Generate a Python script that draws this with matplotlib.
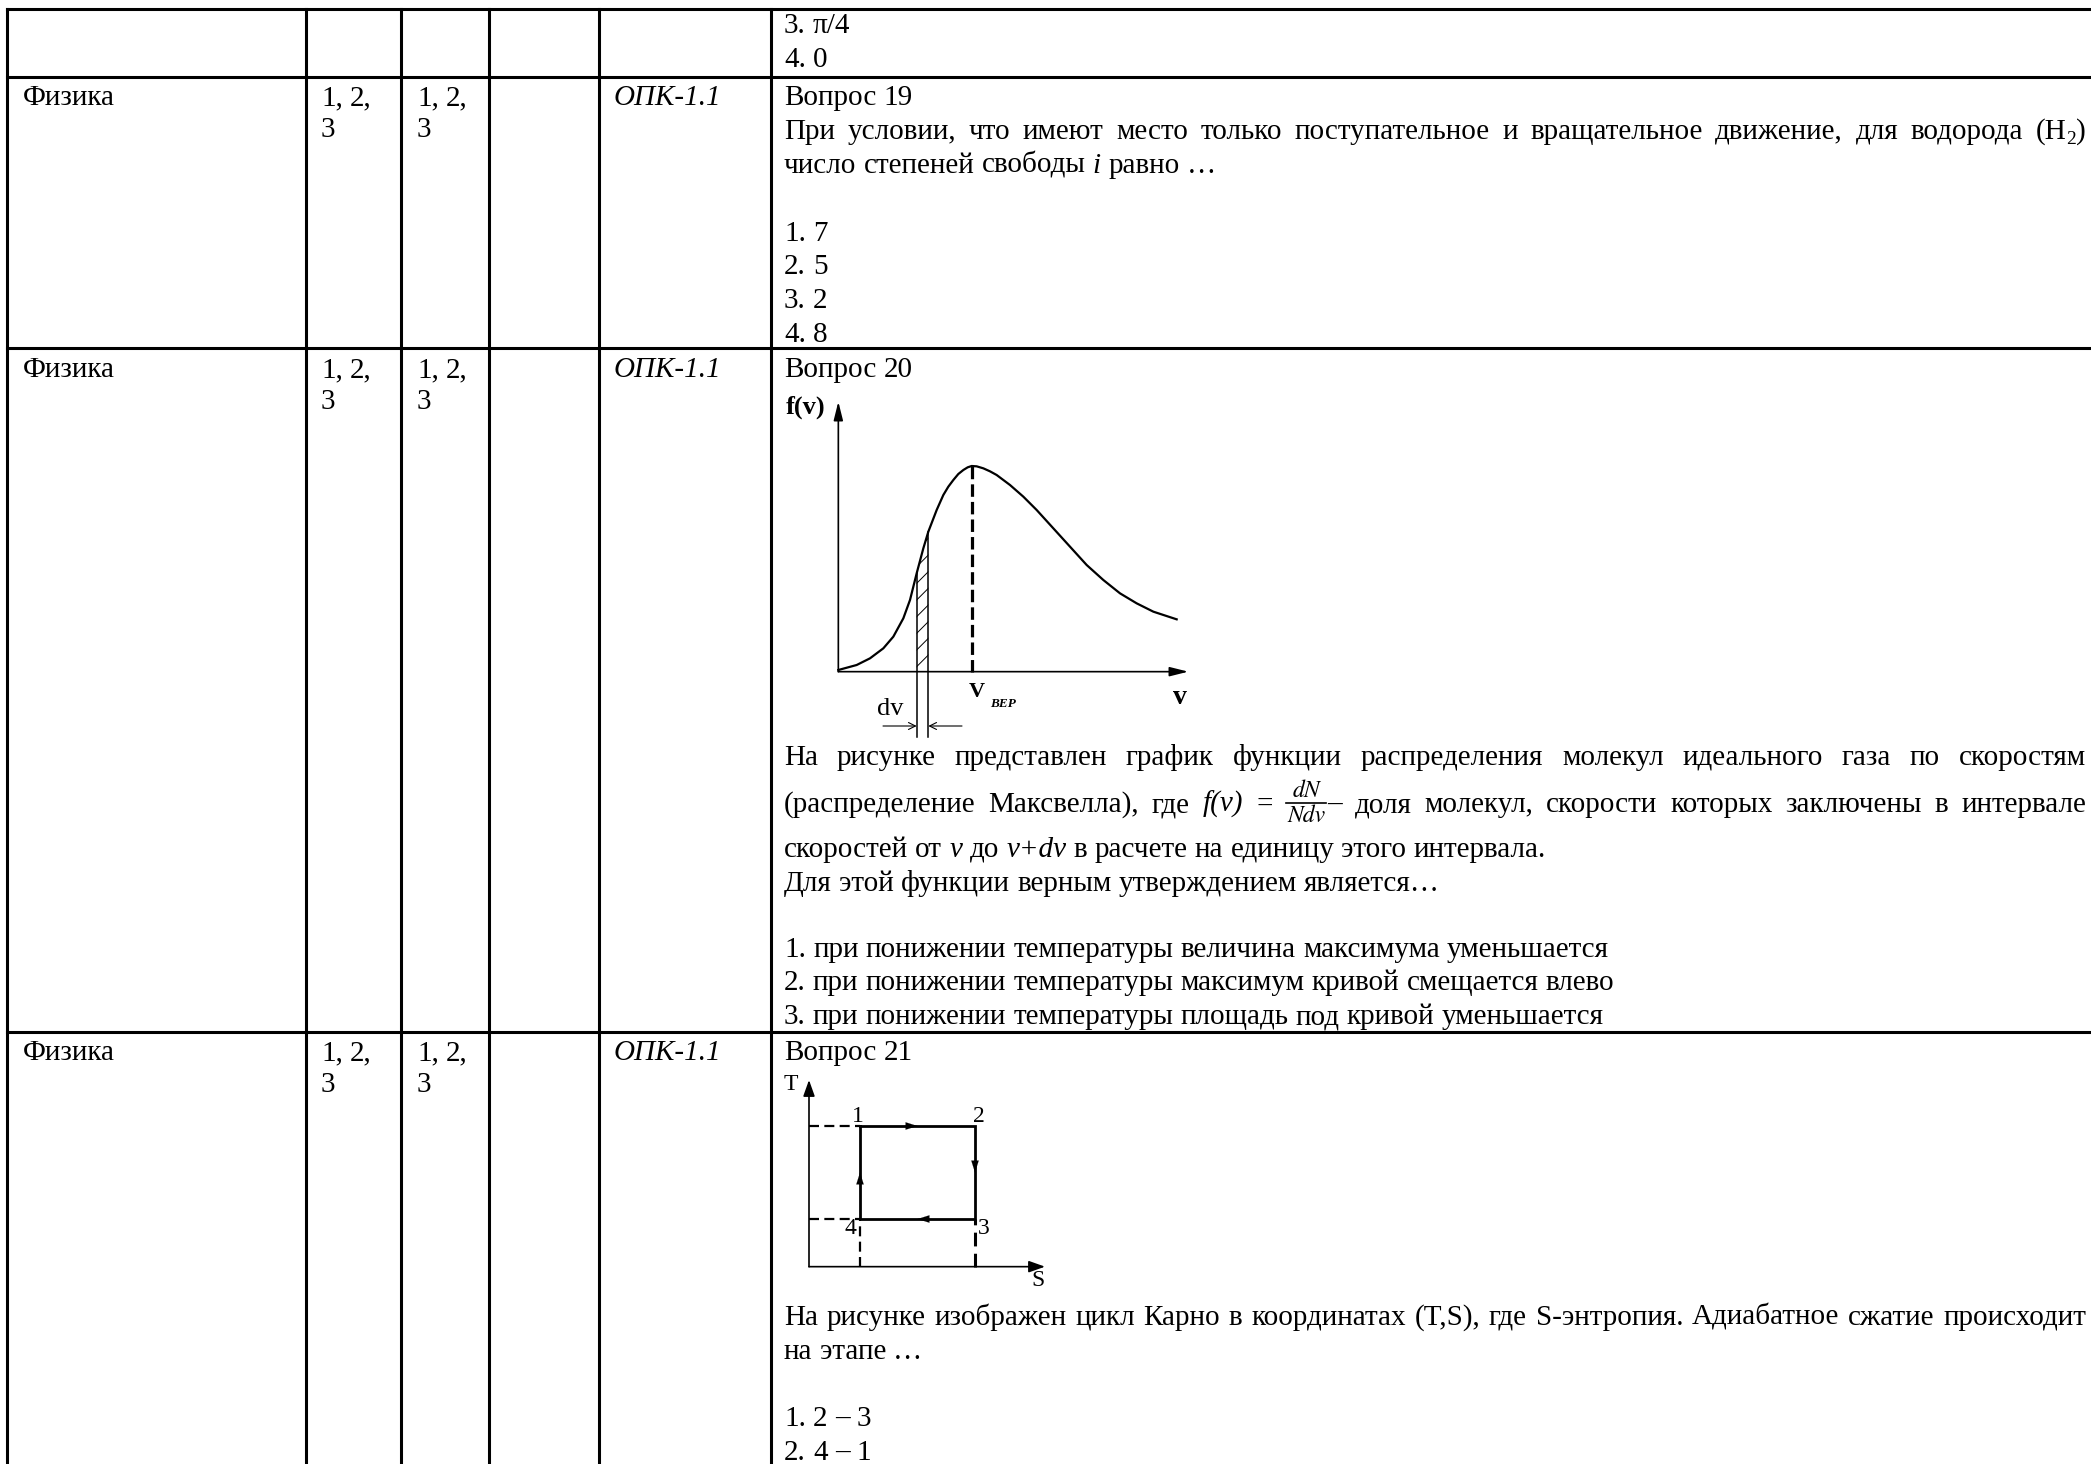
import numpy as np
import matplotlib
matplotlib.use('Agg')
import matplotlib.pyplot as plt

# ---------------- data ----------------
subject = "Физика"
semesters = ["1, 2,", "3"]
competence = "ОПК-1.1"

row1_answers = ["3. π/4", "4. 0"]

q19_title = "Вопрос 19"
q19_text1 = "При условии, что имеют место только поступательное и вращательное движение, для водорода"
q19_answers = ["1. 7", "2. 5", "3. 2", "4. 8"]

q20_title = "Вопрос 20"
q20_text1 = "На рисунке представлен график функции распределения молекул идеального газа по скоростям"
q20_text4 = "Для этой функции верным утверждением является…"
q20_answers = ["1. при понижении температуры величина максимума уменьшается",
               "2. при понижении температуры максимум кривой смещается влево",
               "3. при понижении температуры площадь под кривой уменьшается"]

q21_title = "Вопрос 21"
q21_text1 = "На рисунке изображен цикл Карно в координатах (T,S), где S-энтропия. Адиабатное сжатие происходит"
q21_text2 = "на этапе …"
q21_answers = ["1. 2 – 3", "2. 4 – 1"]

# Maxwell curve (v, f(v)) in arbitrary units
maxwell_v = [0.0, 0.55, 0.95, 1.35, 1.65, 1.95, 2.15, 2.35, 2.55, 2.7, 2.95, 3.15, 3.3, 3.45,
             3.6, 3.75, 3.88, 4.0, 4.15, 4.35, 4.55, 4.75, 5.15, 5.55, 5.95, 6.45, 6.95,
             7.45, 7.95, 8.45, 8.95, 9.45, 10.15]
maxwell_f = [0.05, 0.2, 0.4, 0.7, 1.05, 1.6, 2.15, 2.95, 3.7, 4.2, 4.85, 5.3, 5.55, 5.75,
             5.93, 6.05, 6.13, 6.17, 6.16, 6.1, 6.01, 5.9, 5.6, 5.25, 4.85, 4.3, 3.75,
             3.2, 2.75, 2.35, 2.05, 1.8, 1.57]
dv_strip = [2.35, 2.7]
v_peak = 4.0

# Carnot cycle corners (S, T)
carnot_S = [1.53, 4.98, 4.98, 1.53]
carnot_T = [4.22, 4.22, 1.43, 1.43]
carnot_labels = ["1", "2", "3", "4"]

# ---------------- layout ----------------
W, H, DPI = 2091, 1464, 100
SERIF = ['Liberation Serif', 'DejaVu Serif']
FS = 21

fig = plt.figure(figsize=(W / DPI, H / DPI), dpi=DPI)
ax = fig.add_axes([0, 0, 1, 1])
ax.set_xlim(0, W)
ax.set_ylim(H, 0)
ax.axis('off')
R = fig.canvas.get_renderer()

# table grid
hlines_y = [9, 77, 348, 1032]
vlines_x = [7, 306, 401, 489, 599, 771]
for y in hlines_y:
    ax.plot([vlines_x[0], W + 5], [y, y], color='black', lw=2.2, solid_capstyle='projecting')
for x in vlines_x:
    ax.plot([x, x], [hlines_y[0], H + 5], color='black', lw=2.2, solid_capstyle='projecting')


def props(st='r', sz=FS):
    if st == 'm':
        return dict(fontfamily=['STIXGeneral', 'DejaVu Serif'], fontstyle='italic', fontsize=sz, color='black')
    return dict(fontfamily=SERIF, fontsize=sz, color='black',
                fontstyle='italic' if 'i' in st else 'normal',
                fontweight='bold' if 'b' in st else 'normal')


_cache = {}


def width(s, st='r', sz=FS):
    key = (s, st, sz)
    if key not in _cache:
        t = ax.text(0, 100, s, **props(st, sz))
        _cache[key] = t.get_window_extent(R).width
        t.remove()
    return _cache[key]


FR = 17  # fraction font size


def word_width(word):
    tot = 0
    for seg in word:
        if seg[0] == 'FRAC':
            tot += max(width(seg[1], 'm', FR), width(seg[2], 'm', FR)) + 4
        else:
            tot += width(seg[0], seg[1], seg[2])
    return tot


def draw_word(x, y, word):
    for seg in word:
        if seg[0] == 'FRAC':
            w = max(width(seg[1], 'm', FR), width(seg[2], 'm', FR)) + 4
            cx = x + w / 2
            yb = y - 9
            ax.text(cx, yb - 1, seg[1], ha='center', va='bottom', **props('m', FR))
            ax.plot([x + 1, x + w - 1], [yb, yb], color='black', lw=1.2)
            ax.text(cx, yb + 1, seg[2], ha='center', va='top', **props('m', FR))
            x += w
        else:
            s, st, sz, dy = seg
            ax.text(x, y + dy, s, ha='left', va='baseline', **props(st, sz))
            x += width(s, st, sz)
    return x


def seg(s, st='r', sz=FS, dy=0):
    return [(s, st, sz, dy)]


def words(s, st='r'):
    return [seg(w, st) for w in s.split(' ')]


def draw_line(x0, y, wl, right=None):
    sp = width('x x') - width('xx')
    if right is not None and len(wl) > 1:
        tot = sum(word_width(w) for w in wl)
        sp = (right - x0 - tot) / (len(wl) - 1)
    x = x0
    for w in wl:
        x = draw_word(x, y, w) + sp


QX = 784      # question column text start
QR = 2086     # justified right edge
C1X, C2X, C3X, C5X = 23, 321, 417, 614

# row 1 (continuation)
draw_line(QX, 33, words(row1_answers[0]))
draw_line(QX, 67, words(row1_answers[1]))

# left columns for rows 2..4
for yb in [105, 377, 1060]:
    draw_line(C1X, yb, words(subject))
    draw_line(C2X, yb, words(semesters[0]))
    draw_line(C2X, yb + 32, words(semesters[1]))
    draw_line(C3X, yb, words(semesters[0]))
    draw_line(C3X, yb + 32, words(semesters[1]))
    draw_line(C5X, yb, words(competence, 'i'))

# row 2 : question 19
draw_line(QX, 105, words(q19_title))
draw_line(QX, 139, words(q19_text1) + [[("(H", 'r', FS, 0), ("2", 'r', 14, 5), (")", 'r', FS, 0)]], right=QR)
draw_line(QX, 173, words("число степеней свободы") + [seg("i", 'i')] + words("равно …"))
for k, a in enumerate(q19_answers):
    draw_line(QX, 241 + 33.5 * k, words(a))

# row 3 : question 20
draw_line(QX, 377, words(q20_title))
draw_line(QX, 765, words(q20_text1), right=QR)
line2 = (words("(распределение Максвелла), где") + [seg("f(v)", 'i'), seg("=")]
         + [[('FRAC', 'dN', 'Ndv'), ("–", 'r', FS, 0)]]
         + words("доля молекул, скорости которых заключены в интервале"))
draw_line(QX, 812, line2, right=QR)
line3 = (words("скоростей от") + [seg("v", 'i')] + words("до") + [seg("v+dv", 'i')]
         + words("в расчете на единицу этого интервала."))
draw_line(QX, 857, line3)
draw_line(QX, 891, words(q20_text4))
for k, a in enumerate(q20_answers):
    draw_line(QX, 957 + 33.5 * k, words(a))

# row 4 : question 21
draw_line(QX, 1060, words(q21_title))
draw_line(QX, 1325, words(q21_text1), right=QR)
draw_line(QX, 1359, words(q21_text2))
for k, a in enumerate(q21_answers):
    draw_line(QX, 1426 + 33.5 * k, words(a))

# ---------------- Maxwell diagram ----------------
mx = fig.add_axes([780 / W, 1 - 745 / H, 420 / W, 355 / H])
mx.set_xlim(-1.75, 10.85)
mx.set_ylim(-2.2, 8.45)
mx.axis('off')
akw = dict(arrowstyle='-|>,head_length=0.8,head_width=0.2', color='black', lw=1.2,
           shrinkA=0, shrinkB=0, mutation_scale=14)
mx.annotate('', xy=(10.5, 0), xytext=(0, 0), arrowprops=akw)
mx.annotate('', xy=(0, 8.1), xytext=(0, 0), arrowprops=akw)
mx.plot(maxwell_v, maxwell_f, color='black', lw=1.6, solid_joinstyle='round')

mv = np.array(maxwell_v)
mf = np.array(maxwell_f)
sel = (mv >= dv_strip[0]) & (mv <= dv_strip[1])
plt.rcParams['hatch.linewidth'] = 0.7
mx.fill_between(mv[sel], 0, mf[sel], facecolor='none', edgecolor='black', hatch='//', lw=0)
for vs, fs in zip(mv[sel][[0, -1]], mf[sel][[0, -1]]):
    mx.plot([vs, vs], [-1.96, fs], color='black', lw=1.1)
fpk = max(maxwell_f)
mx.plot([v_peak, v_peak], [0, fpk], color='black', lw=2.3, linestyle=(0, (3.9, 1.6)))

mx.text(-0.97, 7.94, "f(v)", ha='center', va='center', **props('b', 19))
mx.text(4.14, -0.6, "V", ha='center', va='center', **props('b', 16))
mx.text(4.55, -0.98, "ВЕР", ha='left', va='center', **props('ib', 9.5))
mx.text(10.26, -0.78, "v", ha='center', va='center', **props('b', 20))
mx.text(1.55, -1.12, "dv", ha='center', va='center', **props('r', 19))
skw = dict(arrowstyle='->,head_length=0.5,head_width=0.25', color='black', lw=0.8,
           shrinkA=0, shrinkB=0, mutation_scale=10)
mx.annotate('', xy=(dv_strip[0], -1.63), xytext=(1.34, -1.63), arrowprops=skw)
mx.annotate('', xy=(dv_strip[1], -1.63), xytext=(3.71, -1.63), arrowprops=skw)

# ---------------- Carnot diagram ----------------
cn = fig.add_axes([775 / W, 1 - 1295 / H, 285 / W, 225 / H])
cn.set_xlim(-1.02, 7.53)
cn.set_ylim(-0.85, 5.9)
cn.axis('off')
ckw = dict(arrowstyle='-|>,head_length=0.7,head_width=0.25', color='black', lw=1.2,
           shrinkA=0, shrinkB=0, mutation_scale=14)
cn.annotate('', xy=(7.08, 0), xytext=(0, 0), arrowprops=ckw)
cn.annotate('', xy=(0, 5.6), xytext=(0, 0), arrowprops=ckw)

dash = (0, (4.5, 2.4))
cn.plot([0, carnot_S[0]], [carnot_T[0], carnot_T[0]], color='black', lw=1.6, linestyle=dash)
cn.plot([0, carnot_S[3]], [carnot_T[3], carnot_T[3]], color='black', lw=1.6, linestyle=dash)
cn.plot([carnot_S[3], carnot_S[3]], [0, carnot_T[3]], color='black', lw=1.6, linestyle=dash)
cn.plot([carnot_S[2], carnot_S[2]], [0, carnot_T[2]], color='black', lw=2.2, linestyle=dash)

cS = carnot_S + [carnot_S[0]]
cT = carnot_T + [carnot_T[0]]
cn.plot(cS, cT, color='black', lw=2.0, solid_joinstyle='miter')
hkw = dict(arrowstyle='-|>,head_length=0.7,head_width=0.22', color='black', lw=0.1,
           shrinkA=0, shrinkB=0, mutation_scale=12)
for i in range(4):
    s0, t0, s1, t1 = cS[i], cT[i], cS[i + 1], cT[i + 1]
    ms, mt = (s0 + s1) / 2, (t0 + t1) / 2
    ds, dt = (s1 - s0) * 0.02, (t1 - t0) * 0.02
    cn.annotate('', xy=(ms, mt), xytext=(ms - ds, mt - dt), arrowprops=hkw)

lab_off = [(-0.06, 0.3), (0.12, 0.3), (0.26, -0.3), (-0.3, -0.3)]
for lab, s, t, (ox, oy) in zip(carnot_labels, carnot_S, carnot_T, lab_off):
    cn.text(s + ox, t + oy, lab, ha='center', va='center', **props('r', 17))
cn.text(-0.54, 5.48, "T", ha='center', va='center', **props('r', 17))
cn.text(6.87, -0.43, "S", ha='center', va='center', **props('r', 17))

fig.savefig('out.png', dpi=DPI)
